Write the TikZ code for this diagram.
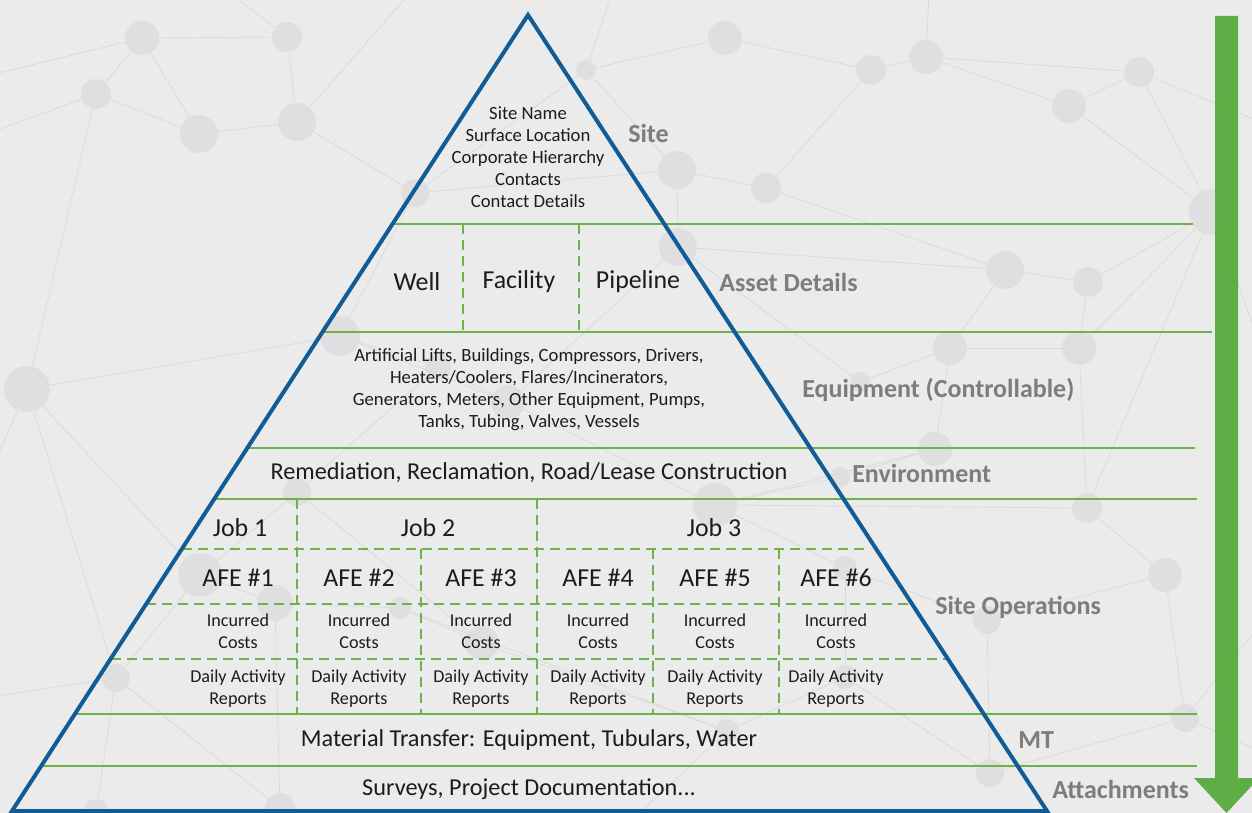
\documentclass[tikz,border=0pt]{standalone}
\usepackage{fontspec}
\setmainfont{Carlito}
\usetikzlibrary{calc}

\definecolor{bgcol}{RGB}{235,235,235}
\definecolor{netfill}{RGB}{223,223,225}
\definecolor{netdraw}{RGB}{217,217,217}
\definecolor{pyrblue}{RGB}{18,92,150}
\definecolor{grline}{RGB}{110,178,75}
\definecolor{grarrow}{RGB}{84,168,56}
\definecolor{lblgray}{RGB}{125,125,125}
\definecolor{txtcol}{RGB}{28,28,28}

\tikzset{
  dot/.style={circle, fill=netfill, inner sep=0pt, minimum size=1.5pt*#1},
  netline/.style={draw=netdraw, line width=0.5pt},
  gline/.style={draw=grline, line width=2pt},
  gdash/.style={draw=grline, line width=1.6pt, dash pattern=on 7.5pt off 4.5pt},
  pyr/.style={draw=pyrblue, line width=3pt, line join=miter},
  small/.style={font=\fontsize{14}{16.5}\selectfont, align=center, text=txtcol},
  big/.style={font=\fontsize{18.2}{21}\selectfont, text=txtcol},
  head/.style={font=\fontsize{19.4}{22}\selectfont, text=txtcol},
  cell/.style={font=\fontsize{13.6}{16.5}\selectfont, align=center, text=txtcol},
  lbl/.style={font=\bfseries\fontsize{19.5}{22}\selectfont, text=lblgray, anchor=west, inner sep=0pt},
}

\begin{document}
\begin{tikzpicture}[x=0.75pt,y=-0.75pt]
    \path[use as bounding box] (0,0) rectangle (1252,813);
    \clip (0,0) rectangle (1252,813);
    \fill[bgcol] (0,0) rectangle (1252,813);

    % background network
    \foreach \nm/\xx/\yy/\rr in {n1/142/38/17, n2/287/37/15, n3/96/94/15, n4/199/134/19,
        n5/297/122/19, n6/586/70/10, n7/725/38/17, n8/871/70/15, n9/926/57/17,
        n10/1069/106/17, n11/1139/72/15, n12/677/170/19, n13/766/188/15, n14/415/193/14,
        n15/1212/212/23, n16/678/247/19, n17/1005/270/19, n18/1088/282/15, n19/340/336/20,
        n20/950/348/17, n21/1079/348/17, n22/27/389/23, n23/935/449/17, n24/715/505/22,
        n25/1087/508/15, n26/1165/575/17, n27/987/620/14, n28/200/575/22, n29/275/603/18,
        n30/400/608/11, n31/482/643/17, n32/116/678/14, n33/1185/718/14, n34/990/773/14,
        n35/280/808/15, n36/860/382/10, n37/840/477/10, n38/845/568/12, n39/845/677/12,
        n40/297/492/14, n41/96/812/13, n42/727/731/12, n43/438/367/13, n44/508/402/17}
      \node[dot=\rr] at (\xx,\yy) (\nm) {};
    \foreach \nm/\xx/\yy in {c1/-30/80, c2/-30/140, c3/200/-30, c4/620/-30, c5/930/-30,
        c6/1280/130, c7/1280/400, c8/1280/600, c9/-30/520, c10/1280/760, c11/600/850,
        c12/60/850, c13/-30/700, c14/430/-30}
      \coordinate (\nm) at (\xx,\yy);
    \foreach \p/\q in {n1/n2, n1/n3, n1/n4, n3/n4, n4/n5, n2/n5, n5/n14, n14/n6, n14/n12,
        n14/n19, n6/n7, n6/n12, n7/n8, n8/n9, n9/n10, n9/n11, n10/n11, n10/n15, n11/n15,
        n12/n13, n12/n16, n13/n8, n13/n17, n16/n17, n16/n36, n17/n18, n17/n20, n18/n21,
        n18/n15, n20/n21, n20/n36, n20/n23, n21/n25, n21/n15, n23/n24, n23/n37, n24/n37,
        n24/n38, n24/n25, n25/n26, n25/n15, n26/n33, n26/n27, n27/n34, n27/n38, n33/n34,
        n34/n39, n38/n39, n39/n42, n42/n31, n31/n30, n30/n29, n29/n28, n28/n32, n32/n41,
        n32/n35, n29/n35, n28/n40, n40/n43, n43/n44, n44/n19, n43/n19, n19/n22, n22/n3,
        n22/n28, n22/n32, n40/n31, n44/n24, n16/n44, n30/n42,
        c1/n1, c2/n3, c3/n2, c4/n6, c5/n9, c6/n11, c7/n15, c8/n33, c9/n22, c10/n33,
        c11/n42, c12/n41, c13/n32, c14/n5}
      \draw[netline] (\p) -- (\q);

    % layers
    \coordinate (apex) at (528,15);
    \coordinate (bl) at (12,811);
    \coordinate (br) at (1047,811);

    \foreach \yy/\xe in {224/1193, 332/1212, 448/1195, 499/1197, 714/1197, 766/1197}
      \draw[gline] ({528-0.6482*(\yy-15)},\yy) -- (\xe,\yy);
    \draw[gdash] (463,224) -- (463,332);
    \draw[gdash] (579,224) -- (579,332);
    \foreach \yy/\xe in {549/866, 604/912, 659/948}
      \draw[gdash] ({528-0.6482*(\yy-15)},\yy) -- (\xe,\yy);
    \foreach \xx in {297,537}
      \draw[gdash] (\xx,499) -- (\xx,714);
    \foreach \xx in {421,653,779}
      \draw[gdash] (\xx,549) -- (\xx,714);

    \draw[pyr] (apex) -- (bl) -- (br) -- cycle;

    % arrow
    \fill[grarrow, opacity=0.92] (1215,16) -- (1238,16) -- (1238,778) -- (1259,778)
      -- (1226.5,813) -- (1194,778) -- (1215,778) -- cycle;

    % texts
    \node[small] at (528,157) (site) {Site Name\\Surface Location\\Corporate Hierarchy\\Contacts\\Contact Details};
    \node[head] at (417,282) (well) {Well};
    \node[head] at (519,282) (facility) {Facility};
    \node[head] at (638,282) (pipeline) {Pipeline};
    \node[small] at (529,390) (equip) {Artificial Lifts, Buildings, Compressors, Drivers,\\Heaters/Coolers, Flares/Incinerators,\\Generators, Meters, Other Equipment, Pumps,\\Tanks, Tubing, Valves, Vessels};
    \node[big] at (529,473) (remed) {Remediation, Reclamation, Road/Lease Construction};
    \node[head] at (240,528) (job1) {Job 1};
    \node[head] at (428,528) (job2) {Job 2};
    \node[head] at (714,528) (job3) {Job 3};
    \foreach \k/\xx in {1/238, 2/359, 3/481, 4/598, 5/715, 6/836} {
      \node[head] at (\xx,578) (afe\k) {AFE \#\k};
      \node[cell] at (\xx,631) (cost\k) {Incurred\\Costs};
      \node[cell] at (\xx,689) (dar\k) {Daily Activity\\Reports};
    }
    \node[big] at (529,740) (mtr) {Material Transfer: Equipment, Tubulars, Water};
    \node[big] at (529,789) (surv) {Surveys, Project Documentation...};

    % side labels
    \node[lbl] at (628,133) (lsite) {Site};
    \node[lbl] at (719,282) (lasset) {Asset Details};
    \node[lbl] at (802,390) (lequip) {Equipment (Controllable)};
    \node[lbl] at (852,473) (lenv) {Environment};
    \node[lbl] at (935,607) (lops) {Site Operations};
    \node[lbl] at (1018,740) (lmt) {MT};
    \node[lbl] at (1052,789) (latt) {Attachments};
\end{tikzpicture}
\end{document}
